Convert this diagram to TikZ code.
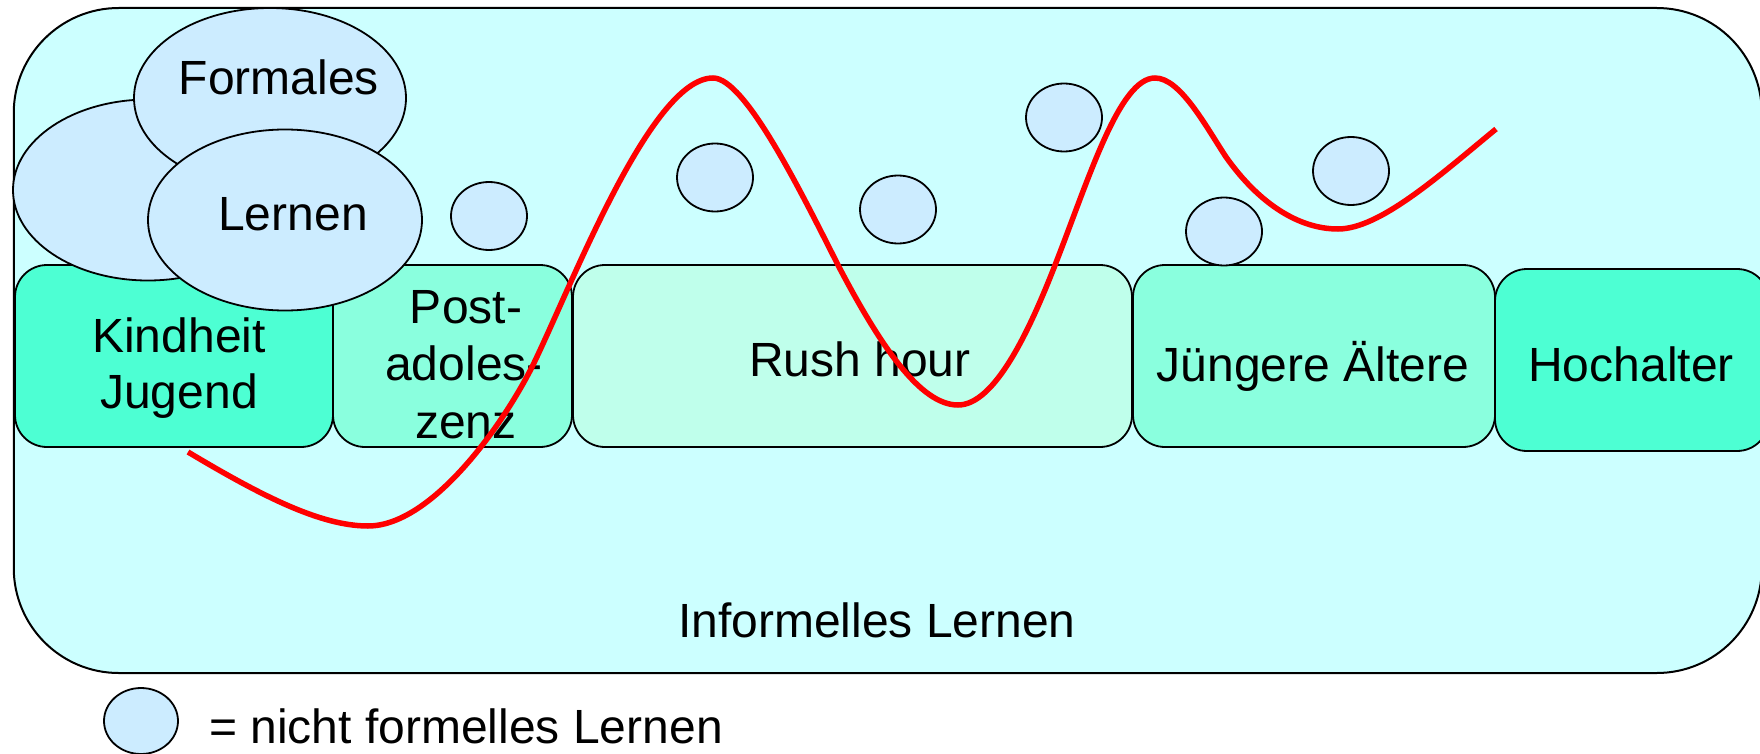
\documentclass[tikz,border=0pt]{standalone}
\usepackage{fontspec}
\setmainfont{Liberation Sans}
\usetikzlibrary{shapes.geometric}
\definecolor{bgcol}{HTML}{CCFFFF}
\definecolor{ellcol}{HTML}{CCECFF}
\definecolor{darkbox}{HTML}{4DFFD3}
\definecolor{midbox}{HTML}{8AFFDE}
\definecolor{lightbox}{HTML}{BFFFEB}
\definecolor{curvecol}{HTML}{FF0000}
\begin{document}
\begin{tikzpicture}[x=1pt,y=-1pt,
  bigbox/.style={draw=black, line width=2pt, fill=bgcol, rounded corners=105pt, inner sep=0pt},
  agebox/.style={draw=black, line width=1.8pt, rounded corners=32pt, inner sep=0pt, minimum height=182pt},
  bubble/.style={ellipse, draw=black, line width=1.8pt, fill=ellcol, inner sep=0pt},
  small/.style={bubble, minimum width=76pt, minimum height=68pt},
  lbl/.style={anchor=base, inner sep=0pt, font=\fontsize{48}{57}\selectfont}
]
\useasboundingbox (0,0) rectangle (1760,754);
% background: informal learning
\node[bigbox, minimum width=1748pt, minimum height=665pt] (inf) at (887.75,340.5) {};
% age boxes
\node[agebox, fill=darkbox, minimum width=318pt] (kj) at (174,356) {};
\node[agebox, fill=midbox, minimum width=239pt] (pa) at (452.5,356) {};
\node[agebox, fill=lightbox, minimum width=559pt] (rh) at (852.5,356) {};
\node[agebox, fill=midbox, minimum width=362pt] (ja) at (1314,356) {};
\node[agebox, fill=darkbox, minimum width=274pt] (ha) at (1632,360) {};
% formal learning ellipses
\node[bubble, minimum width=270pt, minimum height=181pt] (e1) at (148,190) {};
\node[bubble, minimum width=272pt, minimum height=180pt] (e2) at (270,98) {};
\node[bubble, minimum width=274pt, minimum height=181pt] (e3) at (285,220) {};
% non-formal learning bubbles
\node[small] (c0) at (489,216) {};
\node[small] (c1) at (715,177.5) {};
\node[small] (c2) at (898,209.5) {};
\node[small] (c3) at (1064,117.5) {};
\node[small] (c4) at (1224,231.5) {};
\node[small] (c5) at (1351,171) {};
\node[small, minimum width=74pt, minimum height=66pt] (lg) at (141,721) {};
% texts
\node[lbl] (tf) at (279,95) {Formales};
\node[lbl] (tl) at (293,230) {Lernen};
\node[lbl] (tk1) at (179,352) {Kindheit};
\node[lbl] (tk2) at (179,408) {Jugend};
\node[lbl] (tp1) at (466,323) {Post-};
\node[lbl] (tp2) at (464,380) {adoles-};
\node[lbl] (tp3) at (466,438) {zenz};
\node[lbl] (tr) at (860,376) {Rush hour};
\node[lbl] (tj) at (1313,381) {Jüngere Ältere};
\node[lbl] (th) at (1631,381) {Hochalter};
\node[lbl] (ti) at (877,637) {Informelles Lernen};
\node[lbl, anchor=base west] (tlg) at (209,743) {= nicht formelles Lernen};
% learning curve
\coordinate (k0) at (188,452);
\coordinate (k1) at (368,526);
\coordinate (k2) at (532,367);
\coordinate (k3) at (713,78);
\coordinate (k4) at (839,267);
\coordinate (k5) at (958,405);
\coordinate (k6) at (1057,260);
\coordinate (k7) at (1155,78);
\coordinate (k8) at (1226,157);
\coordinate (k9) at (1338,229);
\coordinate (k10) at (1496,129);
\draw[curvecol, line width=5.5pt]
  (k0) .. controls (260,495) and (320,526) .. (k1)
       .. controls (430,526) and (500,430) .. (k2)
       .. controls (570,290) and (650,78) .. (k3)
       .. controls (745,78) and (800,190) .. (k4)
       .. controls (880,345) and (920,405) .. (k5)
       .. controls (995,405) and (1030,330) .. (k6)
       .. controls (1090,175) and (1120,78) .. (k7)
       .. controls (1180,78) and (1205,125) .. (k8)
       .. controls (1260,205) and (1300,229) .. (k9)
       .. controls (1380,229) and (1440,175) .. (k10);
\end{tikzpicture}
\end{document}
